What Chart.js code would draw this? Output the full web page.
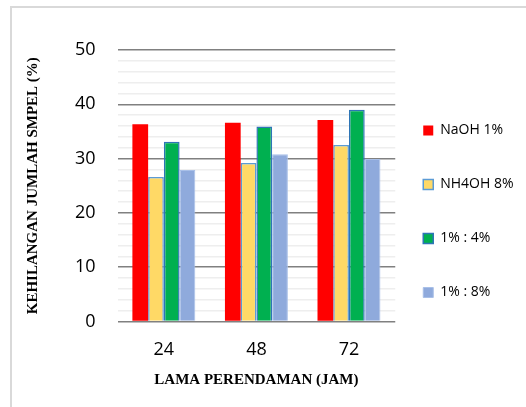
<!DOCTYPE html>
<html>
<head>
<meta charset="utf-8">
<script src="https://cdn.jsdelivr.net/npm/chart.js@4.4.0/dist/chart.umd.min.js"></script>
<style>
  html, body { margin: 0; padding: 0; background: #fff; }
  #wrap { position: relative; width: 526px; height: 407px; }
  #frame { position: absolute; left: 10px; top: 6px; width: 520px; height: 410px;
           border-left: 2px solid #d9d9d9; border-top: 2px solid #d9d9d9; }
  canvas { position: absolute; left: 0; top: 0; }
</style>
</head>
<body>
<div id="wrap">
  <div id="frame"></div>
  <canvas id="chart" width="526" height="407"></canvas>
</div>
<script>
// lama perendaman (jam)
const jam = ['24', '48', '72'];
// kehilangan jumlah sampel (%)
const naoh1 = [36.3, 36.6, 37.1];
const nh4oh8 = [26.6, 29.2, 32.5];
const campur14 = [33.1, 35.9, 39.0];
const campur18 = [27.9, 30.8, 29.9];
const yTicks = [0, 10, 20, 30, 40, 50];

// geser legenda sedikit ke kiri & ke atas
const geserLegenda = {
    id: 'geserLegenda',
    afterLayout(chart) {
        chart.legend.left -= 12;
        chart.legend.top -= 20;
    }
};

const ctx = document.getElementById('chart').getContext('2d');
new Chart(ctx, {
    type: 'bar',
    data: {
        labels: jam,
        datasets: [
            { label: 'NaOH 1%', data: naoh1, backgroundColor: '#ff0000', borderWidth: 0 },
            { label: 'NH4OH 8%', data: nh4oh8, backgroundColor: '#ffd966', borderColor: '#5b9bd5', borderWidth: 1.5 },
            { label: '1% : 4%', data: campur14, backgroundColor: '#00b050', borderColor: '#2e75b6', borderWidth: 1.5 },
            { label: '1% : 8%', data: campur18, backgroundColor: '#8faadc', borderColor: '#a9c0e8', borderWidth: 1 }
        ]
    },
    options: {
        responsive: false,
        animation: false,
        datasets: { bar: { categoryPercentage: 0.68, barPercentage: 1 } },
        layout: { padding: { left: 18, top: 50, right: 5, bottom: 14 } },
        scales: {
            x: {
                grid: { display: false },
                border: { display: false },
                ticks: { color: '#000', font: { family: 'Open Sans', size: 18 }, padding: 10 },
                title: {
                    display: true, text: 'LAMA PERENDAMAN (JAM)', color: '#000',
                    font: { family: 'Liberation Serif', size: 15, weight: 'bold' }, padding: { top: 0, bottom: 4 }
                }
            },
            y: {
                min: 0, max: 50,
                border: { display: false },
                grid: {
                    drawTicks: false,
                    color: c => (c.tick.value % 10 === 0) ? '#808080' : '#eeeeee',
                    lineWidth: 1.5
                },
                ticks: {
                    stepSize: 2,
                    autoSkip: false,
                    padding: 22,
                    color: '#000',
                    font: { family: 'Open Sans', size: 18 },
                    callback: v => yTicks.includes(v) ? v : ''
                },
                title: {
                    display: true, text: 'KEHILANGAN JUMLAH SMPEL (%)', color: '#000',
                    font: { family: 'Liberation Serif', size: 15, weight: 'bold' }, padding: { top: 6, bottom: 11 }
                }
            }
        },
        plugins: {
            legend: {
                position: 'right',
                labels: {
                    color: '#000',
                    boxWidth: 10, boxHeight: 10,
                    padding: 40,
                    font: { family: 'Open Sans', size: 14 }
                }
            },
            tooltip: { enabled: false }
        }
    },
    plugins: [geserLegenda]
});
</script>
</body>
</html>
